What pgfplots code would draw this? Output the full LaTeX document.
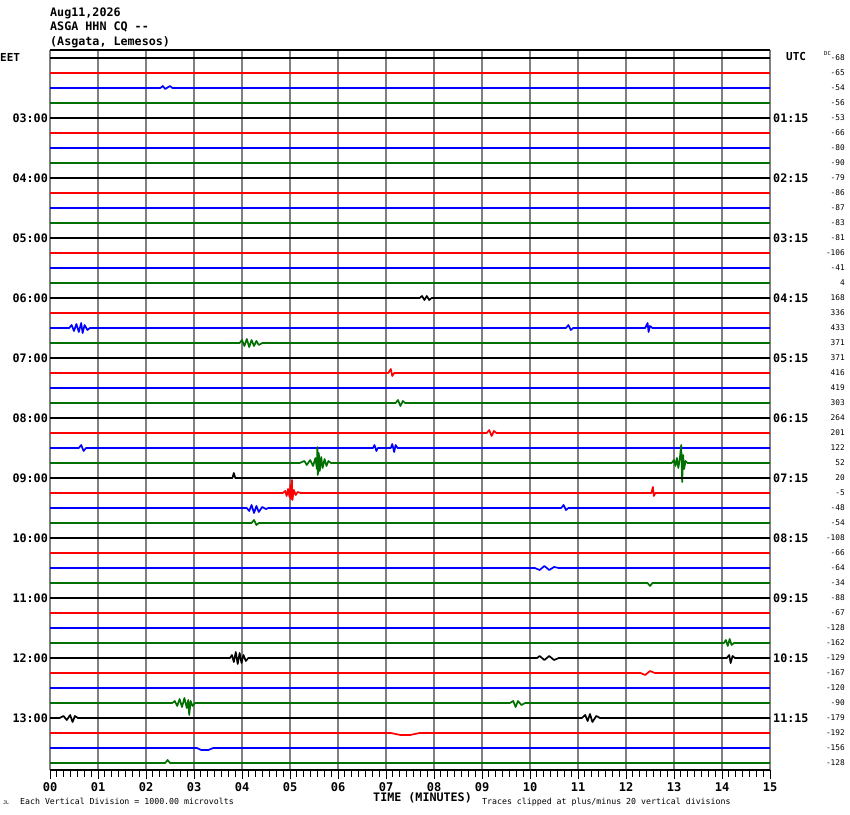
\documentclass[border=0pt]{standalone}
\usepackage{pgfplots}
\pgfplotsset{compat=1.18}
\usepackage{fontspec}
\setmainfont{DejaVu Sans Mono}
\newfontfamily\mono{DejaVu Sans Mono}
\newcommand\fs[1]{\fontsize{#1}{#1}\selectfont}
\definecolor{tgreen}{RGB}{0,112,0}
\definecolor{gridgray}{RGB}{128,128,128}
\begin{document}
\begin{tikzpicture}[x=1pt,y=1pt]
\useasboundingbox (0,0) rectangle (850,814);
\begin{axis}[at={(50pt,44pt)}, anchor=south west, scale only axis,
  width=720pt, height=720pt, xmin=0, xmax=15, ymin=-712, ymax=8,
  axis line style={draw=none}, xtick={0,...,15}, xticklabels={},
  minor x tick num=6, ytick=\empty, xtick pos=bottom, tick align=outside,
  major tick length=9pt, minor tick length=6.5pt,
  every tick/.style={black, line width=0.9pt},
  xmajorgrids, major grid style={gridgray, line width=1.3pt},
  clip=false, every axis plot/.append style={line width=1.7pt, line join=round, mark=none}]
% row 0-3
\addplot[black] coordinates {(0,0)(15,0)};
\addplot[red] coordinates {(0,-15)(15,-15)};
\addplot[blue] coordinates {(0,-30)(2.3,-30)(2.35,-28)(2.4,-31)(2.5,-28)(2.55,-30)(15,-30)};
\addplot[tgreen] coordinates {(0,-45)(15,-45)};
% row 4-15
\addplot[black] coordinates {(0,-60)(15,-60)};
\addplot[red] coordinates {(0,-75)(15,-75)};
\addplot[blue] coordinates {(0,-90)(15,-90)};
\addplot[tgreen] coordinates {(0,-105)(15,-105)};
\addplot[black] coordinates {(0,-120)(15,-120)};
\addplot[red] coordinates {(0,-135)(15,-135)};
\addplot[blue] coordinates {(0,-150)(15,-150)};
\addplot[tgreen] coordinates {(0,-165)(15,-165)};
\addplot[black] coordinates {(0,-180)(15,-180)};
\addplot[red] coordinates {(0,-195)(15,-195)};
\addplot[blue] coordinates {(0,-210)(15,-210)};
\addplot[tgreen] coordinates {(0,-225)(15,-225)};
% row 16-19
\addplot[black] coordinates {(0,-240)(7.7,-240)(7.75,-238)(7.8,-242)(7.85,-238)(7.9,-242)(7.95,-240)(15,-240)};
\addplot[red] coordinates {(0,-255)(15,-255)};
\addplot[blue] coordinates {(0,-270)(0.40,-270)(0.45,-267)(0.5,-273)(0.55,-266)(0.6,-274)(0.65,-265)(0.68,-275)(0.72,-267)(0.78,-272)(0.83,-270)(10.75,-270)(10.8,-267)(10.85,-272)(10.9,-270)(12.40,-270)(12.45,-265)(12.47,-274)(12.5,-268)(12.55,-270)(15,-270)};
\addplot[tgreen] coordinates {(0,-285)(3.95,-285)(4.0,-282)(4.05,-288)(4.1,-281)(4.15,-289)(4.2,-282)(4.25,-288)(4.3,-283)(4.35,-287)(4.42,-285)(15,-285)};
% row 20-23
\addplot[black] coordinates {(0,-300)(15,-300)};
\addplot[red] coordinates {(0,-315)(7.05,-315)(7.1,-311)(7.13,-318)(7.17,-315)(15,-315)};
\addplot[blue] coordinates {(0,-330)(15,-330)};
\addplot[tgreen] coordinates {(0,-345)(7.2,-345)(7.25,-342)(7.3,-348)(7.35,-343)(7.4,-345)(15,-345)};
% row 24-27
\addplot[black] coordinates {(0,-360)(15,-360)};
\addplot[red] coordinates {(0,-375)(9.1,-375)(9.15,-372)(9.2,-378)(9.25,-373)(9.3,-375)(15,-375)};
\addplot[blue] coordinates {(0,-390)(0.6,-390)(0.65,-387)(0.7,-393)(0.75,-390)(6.73,-390)(6.76,-387)(6.8,-393)(6.83,-390)(7.1,-390)(7.13,-386)(7.17,-394)(7.2,-387)(7.24,-390)(15,-390)};
\addplot[tgreen] coordinates {(0,-405)(5.20,-405)(5.30,-403)(5.35,-407)(5.42,-402)(5.48,-408)(5.53,-400)(5.56,-411)(5.57,-389)(5.58,-417)(5.60,-395)(5.62,-413)(5.65,-399)(5.68,-410)(5.72,-401)(5.76,-408)(5.80,-403)(5.85,-405)(12.95,-405)(13.0,-402)(13.03,-408)(13.06,-400)(13.09,-410)(13.12,-401)(13.15,-387)(13.17,-424)(13.19,-397)(13.21,-411)(13.24,-403)(13.28,-405)(15,-405)};
% row 28-31
\addplot[black] coordinates {(0,-420)(3.8,-420)(3.83,-415)(3.86,-420)(15,-420)};
\addplot[red] coordinates {(0,-435)(4.85,-435)(4.90,-433)(4.93,-438)(4.96,-431)(4.99,-439)(5.01,-427)(5.02,-441)(5.04,-422)(5.05,-442)(5.08,-432)(5.12,-437)(5.16,-434)(5.22,-435)(12.53,-435)(12.56,-429)(12.58,-438)(12.61,-435)(15,-435)};
\addplot[blue] coordinates {(0,-450)(4.1,-450)(4.15,-453)(4.2,-447)(4.25,-455)(4.3,-448)(4.35,-454)(4.42,-449)(4.5,-451)(4.55,-450)(10.65,-450)(10.7,-447)(10.75,-452)(10.8,-450)(15,-450)};
\addplot[tgreen] coordinates {(0,-465)(4.2,-465)(4.25,-462)(4.3,-467)(4.35,-465)(15,-465)};
% row 32-35
\addplot[black] coordinates {(0,-480)(15,-480)};
\addplot[red] coordinates {(0,-495)(15,-495)};
\addplot[blue] coordinates {(0,-510)(10.1,-510)(10.2,-512)(10.3,-508)(10.4,-512)(10.5,-509)(10.6,-510)(15,-510)};
\addplot[tgreen] coordinates {(0,-525)(12.45,-525)(12.5,-528)(12.55,-525)(15,-525)};
% row 36-39
\addplot[black] coordinates {(0,-540)(15,-540)};
\addplot[red] coordinates {(0,-555)(15,-555)};
\addplot[blue] coordinates {(0,-570)(15,-570)};
\addplot[tgreen] coordinates {(0,-585)(14.04,-585)(14.08,-582)(14.12,-588)(14.16,-581)(14.2,-587)(14.25,-585)(15,-585)};
% row 40-43
\addplot[black] coordinates {(0,-600)(3.75,-600)(3.79,-597)(3.83,-604)(3.87,-594)(3.91,-606)(3.95,-595)(3.99,-605)(4.03,-597)(4.08,-603)(4.13,-600)(10.15,-600)(10.2,-598)(10.3,-602)(10.4,-598)(10.5,-602)(10.6,-600)(14.1,-600)(14.15,-597)(14.18,-605)(14.22,-598)(14.27,-600)(15,-600)};
\addplot[red] coordinates {(0,-615)(12.3,-615)(12.4,-617)(12.5,-613)(12.6,-615)(15,-615)};
\addplot[blue] coordinates {(0,-630)(15,-630)};
\addplot[tgreen] coordinates {(0,-645)(2.55,-645)(2.6,-643)(2.65,-648)(2.7,-641)(2.75,-649)(2.8,-640)(2.85,-650)(2.88,-642)(2.9,-657)(2.93,-643)(2.97,-648)(3.02,-645)(9.58,-645)(9.65,-643)(9.7,-649)(9.75,-643)(9.82,-647)(9.9,-645)(15,-645)};
% row 44-47
\addplot[black] coordinates {(0,-660)(0.2,-660)(0.28,-658)(0.35,-662)(0.42,-657)(0.47,-664)(0.52,-658)(0.58,-660)(11.08,-660)(11.15,-657)(11.2,-663)(11.25,-656)(11.3,-664)(11.38,-658)(11.46,-660)(15,-660)};
\addplot[red] coordinates {(0,-675)(7.1,-675)(7.3,-677)(7.5,-677)(7.7,-675)(15,-675)};
\addplot[blue] coordinates {(0,-690)(3.06,-690)(3.15,-692)(3.3,-692)(3.4,-690)(15,-690)};
\addplot[tgreen] coordinates {(0,-705)(2.4,-705)(2.45,-702)(2.5,-705)(15,-705)};
\end{axis}
% frame lines
\draw[black, line width=1.6pt] (50,764) -- (770,764);
\draw[black, line width=1.4pt] (50,44) -- (770,44);
% titles
\begin{scope}[every node/.style={inner sep=0pt}]
\node[font=\mono\bfseries\fs{11.7}, anchor=base west] at (50,797) {Aug11,2026};
\node[font=\mono\bfseries\fs{11.7}, anchor=base west] at (50,783) {ASGA HHN CQ --};
\node[font=\mono\bfseries\fs{11.7}, anchor=base west] at (50,768) {(Asgata, Lemesos)};
\node[font=\mono\bfseries\fs{11}, anchor=west] at (0,757) {EET};
\node[font=\mono\bfseries\fs{11}, anchor=west] at (786,757) {UTC};
\foreach \t [count=\i] in {03:00,04:00,05:00,06:00,07:00,08:00,09:00,10:00,11:00,12:00,13:00}
  \node[font=\mono\bfseries\fs{11.7}, anchor=east] at (48,{756-60*\i}) {\t};
\foreach \t [count=\i] in {01:15,02:15,03:15,04:15,05:15,06:15,07:15,08:15,09:15,10:15,11:15}
  \node[font=\mono\bfseries\fs{11.7}, anchor=west] at (773,{756-60*\i}) {\t};
\foreach \v [count=\i from 0] in {-68,-65,-54,-56,-53,-66,-80,-90,-79,-86,-87,-83,-81,-106,-41,4,168,336,433,371,371,416,419,303,264,201,122,52,20,-5,-48,-54,-108,-66,-64,-34,-88,-67,-128,-162,-129,-167,-120,-90,-179,-192,-156,-128}
  \node[font=\mono\fs{7.8}, anchor=east] at (845,{756-15*\i}) {\v};
\node[font=\mono\fs{5.5}, anchor=base west] at (824,758) {DC};
\foreach \t [count=\i from 0] in {00,01,02,03,04,05,06,07,08,09,10,11,12,13,14,15}
  \node[font=\mono\bfseries\fs{12}, anchor=center] at ({50+48*\i},27) {\t};
\node[font=\mono\bfseries\fs{11.7}, anchor=west] at (373,16) {TIME (MINUTES)};
\node[font=\mono\fs{8.25}, anchor=base west] at (20,10) {Each Vertical Division = 1000.00 microvolts};
\node[font=\mono\fs{8.25}, anchor=base west] at (482,10) {Traces clipped at plus/minus 20 vertical divisions};
\node[font=\mono\fs{5}, anchor=base west] at (3,10) {JL};
\end{scope}
\end{tikzpicture}
\end{document}
